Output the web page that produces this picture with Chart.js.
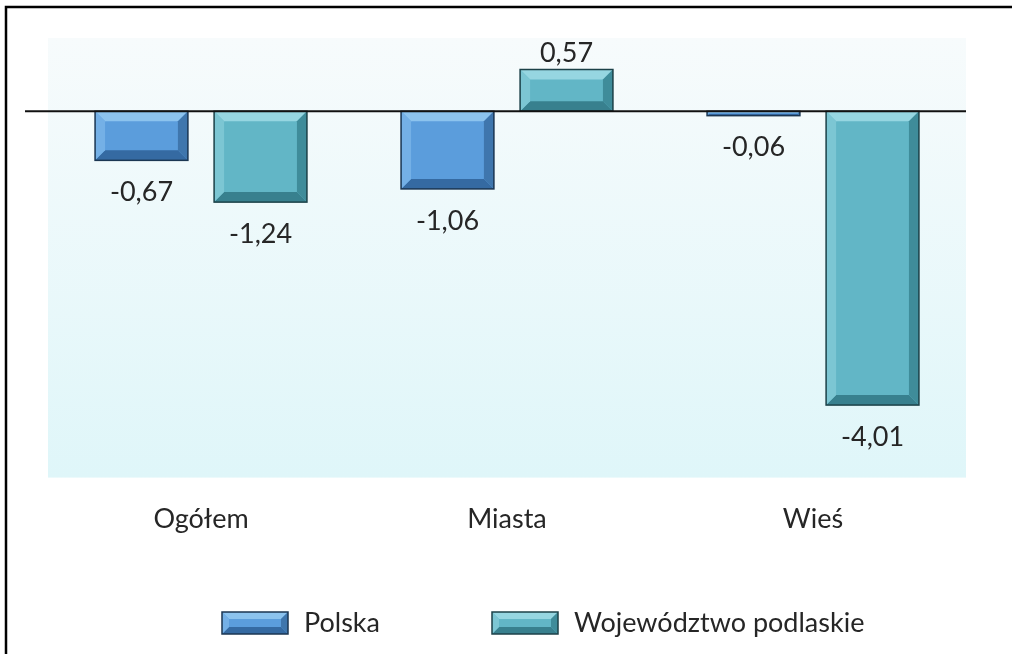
<!DOCTYPE html>
<html>
<head>
<meta charset="utf-8">
<script src="https://cdn.jsdelivr.net/npm/chart.js@4/dist/chart.umd.min.js"></script>
<style>
  body { margin: 0; background: #fff; }
</style>
</head>
<body>
<canvas id="chart" width="1012" height="654"></canvas>
<script>
const categories = ['Ogółem', 'Miasta', 'Wieś'];
const seriesNames = ['Polska', 'Województwo podlaskie'];
const polska = [-0.67, -1.06, -0.06];
const podlaskie = [-1.24, 0.57, -4.01];

const FONT = 'Lato';
const TEXT = '#262626';
const FSIZE = 27;

// bevel colours per series: face, top, left, right, bottom, border
const bevels = [
    { face: '#5b9ddc', top: '#8cc3ee', left: '#74b0e6', right: '#3f76ad', bottom: '#356aa2', border: '#1b3652' },
    { face: '#62b6c6', top: '#96d6e1', left: '#7cc6d3', right: '#3f8c9a', bottom: '#38808e', border: '#1c4148' }
];

function drawBevel(ctx, x0, y0, x1, y1, c, size) {
    const w = x1 - x0, h = y1 - y0;
    const b = Math.max(0, Math.min(size, w / 2, h / 2 - 0.5));
    ctx.save();
    ctx.fillStyle = c.face;
    ctx.fillRect(x0, y0, w, h);
    const poly = (pts, col) => {
        ctx.beginPath();
        ctx.moveTo(pts[0][0], pts[0][1]);
        for (let i = 1; i < pts.length; i++) ctx.lineTo(pts[i][0], pts[i][1]);
        ctx.closePath();
        ctx.fillStyle = col;
        ctx.fill();
    };
    if (b > 0) {
        poly([[x0, y0], [x1, y0], [x1 - b, y0 + b], [x0 + b, y0 + b]], c.top);
        poly([[x0, y1], [x1, y1], [x1 - b, y1 - b], [x0 + b, y1 - b]], c.bottom);
        poly([[x0, y0], [x0 + b, y0 + b], [x0 + b, y1 - b], [x0, y1]], c.left);
        poly([[x1, y0], [x1 - b, y0 + b], [x1 - b, y1 - b], [x1, y1]], c.right);
    }
    ctx.strokeStyle = c.border;
    ctx.lineWidth = 1.5;
    ctx.strokeRect(x0, y0, w, h);
    ctx.restore();
}

const fmt = v => v.toFixed(2).replace('.', ',');

const decor = {
    id: 'decor',
    beforeDatasetsDraw(chart) {
        const { ctx, chartArea } = chart;
        const g = ctx.createLinearGradient(0, chartArea.top, 0, chartArea.bottom);
        g.addColorStop(0, '#f7fbfc');
        g.addColorStop(1, '#dff6f9');
        ctx.save();
        ctx.fillStyle = g;
        ctx.fillRect(chartArea.left, chartArea.top, chartArea.right - chartArea.left, chartArea.bottom - chartArea.top);
        ctx.restore();
    },
    afterDatasetsDraw(chart) {
        const { ctx, chartArea } = chart;
        const yScale = chart.scales.y;
        chart.data.datasets.forEach((ds, i) => {
            const meta = chart.getDatasetMeta(i);
            meta.data.forEach((bar, j) => {
                const x0 = bar.x - bar.width / 2, x1 = bar.x + bar.width / 2;
                const top = Math.min(bar.y, bar.base), bot = Math.max(bar.y, bar.base);
                drawBevel(ctx, x0, top, x1, bot, bevels[i], 10);
                const v = ds.data[j];
                ctx.save();
                ctx.font = FSIZE + 'px ' + FONT;
                ctx.fillStyle = TEXT;
                ctx.textAlign = 'center';
                ctx.textBaseline = 'middle';
                ctx.fillText(fmt(v), bar.x, v < 0 ? bar.y + 32 : bar.y - 16);
                ctx.restore();
            });
        });
        // zero line
        const y0 = yScale.getPixelForValue(0);
        ctx.save();
        ctx.strokeStyle = '#111';
        ctx.lineWidth = 2;
        ctx.beginPath();
        ctx.moveTo(chartArea.left - 23, y0);
        ctx.lineTo(chartArea.right, y0);
        ctx.stroke();
        ctx.restore();
    },
    afterDraw(chart) {
        const { ctx, width, height } = chart;
        // legend
        ctx.save();
        ctx.font = FSIZE + 'px ' + FONT;
        ctx.fillStyle = TEXT;
        ctx.textBaseline = 'middle';
        let x = 222;
        const ly = 623;
        chart.data.datasets.forEach((ds, i) => {
            drawBevel(ctx, x, ly - 11, x + 66, ly + 11, bevels[i], 7);
            x += 66 + 16;
            ctx.fillText(ds.label, x, ly);
            x += ctx.measureText(ds.label).width + 112;
        });
        ctx.restore();
        // frame
        ctx.save();
        ctx.strokeStyle = '#000';
        ctx.lineWidth = 2.5;
        ctx.beginPath();
        ctx.moveTo(6, height);
        ctx.lineTo(6, 7);
        ctx.lineTo(width, 7);
        ctx.stroke();
        ctx.restore();
    }
};

new Chart(document.getElementById('chart'), {
    type: 'bar',
    data: {
        labels: categories,
        datasets: [
            { label: seriesNames[0], data: polska, backgroundColor: bevels[0].face, borderWidth: 0 },
            { label: seriesNames[1], data: podlaskie, backgroundColor: bevels[1].face, borderWidth: 0 }
        ]
    },
    options: {
        responsive: false,
        animation: false,
        events: [],
        layout: { padding: { left: 48, right: 46, top: 38, bottom: 94 } },
        datasets: { bar: { categoryPercentage: 0.778, barPercentage: 0.78 } },
        scales: {
            x: {
                grid: { display: false, drawTicks: false },
                border: { display: false },
                ticks: { color: TEXT, font: { family: FONT, size: FSIZE }, padding: 25 }
            },
            y: { display: false, min: -5, max: 1 }
        },
        plugins: {
            tooltip: { enabled: false },
            legend: { display: false }
        }
    },
    plugins: [decor]
});
</script>
</body>
</html>
